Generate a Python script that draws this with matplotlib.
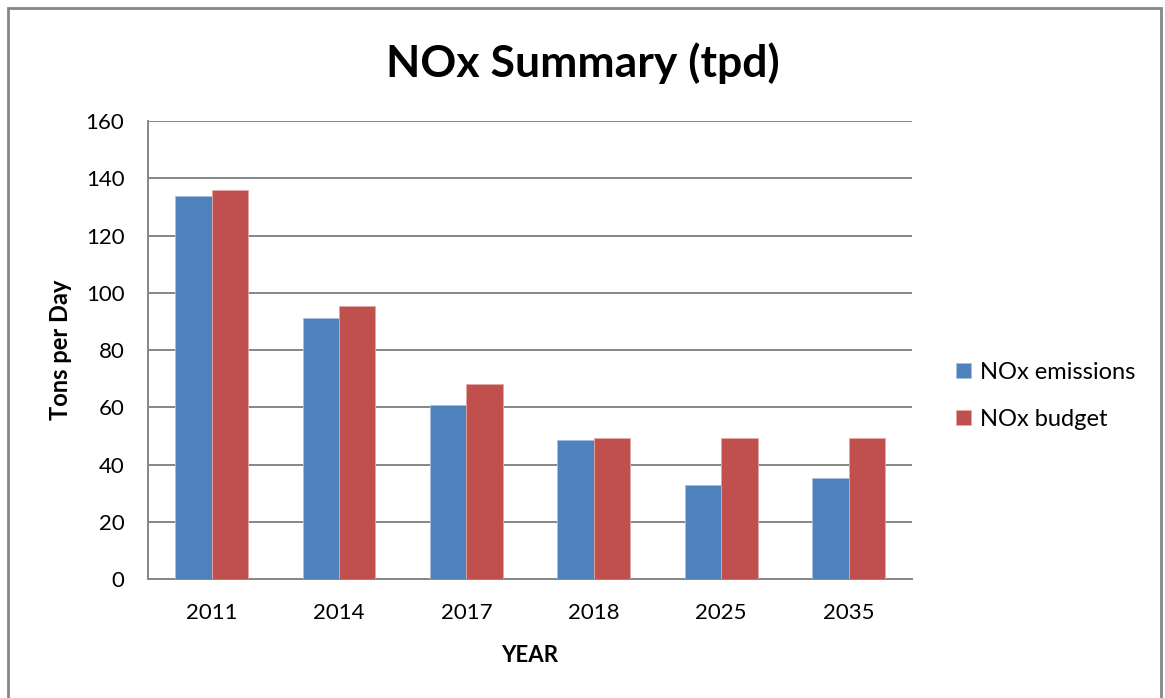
import matplotlib.pyplot as plt
from matplotlib.patches import Rectangle
import numpy as np

# data
years = ['2011', '2014', '2017', '2018', '2025', '2035']
nox_emissions = [134.0, 91.1, 60.8, 48.7, 32.9, 35.2]
nox_budget = [135.8, 95.3, 68.1, 49.1, 49.1, 49.1]

plt.rcParams['font.family'] = ['Lato', 'DejaVu Sans']

fig = plt.figure(figsize=(11.65, 6.98), dpi=100)
ax = fig.add_axes([0.127, 0.1705, 0.656, 0.656])

x = np.arange(len(years))
w = 0.286
ax.bar(x - w / 2, nox_emissions, w, color='#4f81bd', edgecolor='#a7c0de', linewidth=0.6,
       label='NOx emissions', zorder=3)
ax.bar(x + w / 2, nox_budget, w, color='#c0504d', edgecolor='#e0a8a6', linewidth=0.6,
       label='NOx budget', zorder=3)

ax.set_xlim(-0.5, len(years) - 0.5)
ax.set_ylim(0, 160)
ax.set_yticks(range(0, 161, 20))
ax.set_xticks(x)
ax.set_xticklabels(years)
ax.tick_params(axis='x', length=0, pad=17, labelsize=16)
ax.tick_params(axis='y', length=0, pad=17, labelsize=16)

ax.grid(axis='y', color='#868686', linewidth=1.4, zorder=0)
for s in ['top', 'right']:
    ax.spines[s].set_visible(False)
for s in ['left', 'bottom']:
    ax.spines[s].set_color('#868686')
    ax.spines[s].set_linewidth(1.4)

ax.set_xlabel('YEAR', fontsize=16, fontweight='bold', labelpad=16)
ax.set_ylabel('Tons per Day', fontsize=17, fontweight='bold', labelpad=10)

fig.text(0.5, 0.91, 'NOx Summary (tpd)', ha='center', va='center', fontsize=32, fontweight='bold')

ax.legend(loc='center left', bbox_to_anchor=(1.03, 0.4), frameon=False, fontsize=17,
          handlelength=0.6, handleheight=0.6, handletextpad=0.4, labelspacing=1.1)

# outer chart border (bottom edge runs off the image)
border = Rectangle((8 / 1165, -0.05), 1153 / 1165, (698 - 8) / 698 + 0.05,
                   transform=fig.transFigure, fill=False, edgecolor='#868686', linewidth=2)
fig.patches.append(border)

plt.savefig('out.png', dpi=100)
